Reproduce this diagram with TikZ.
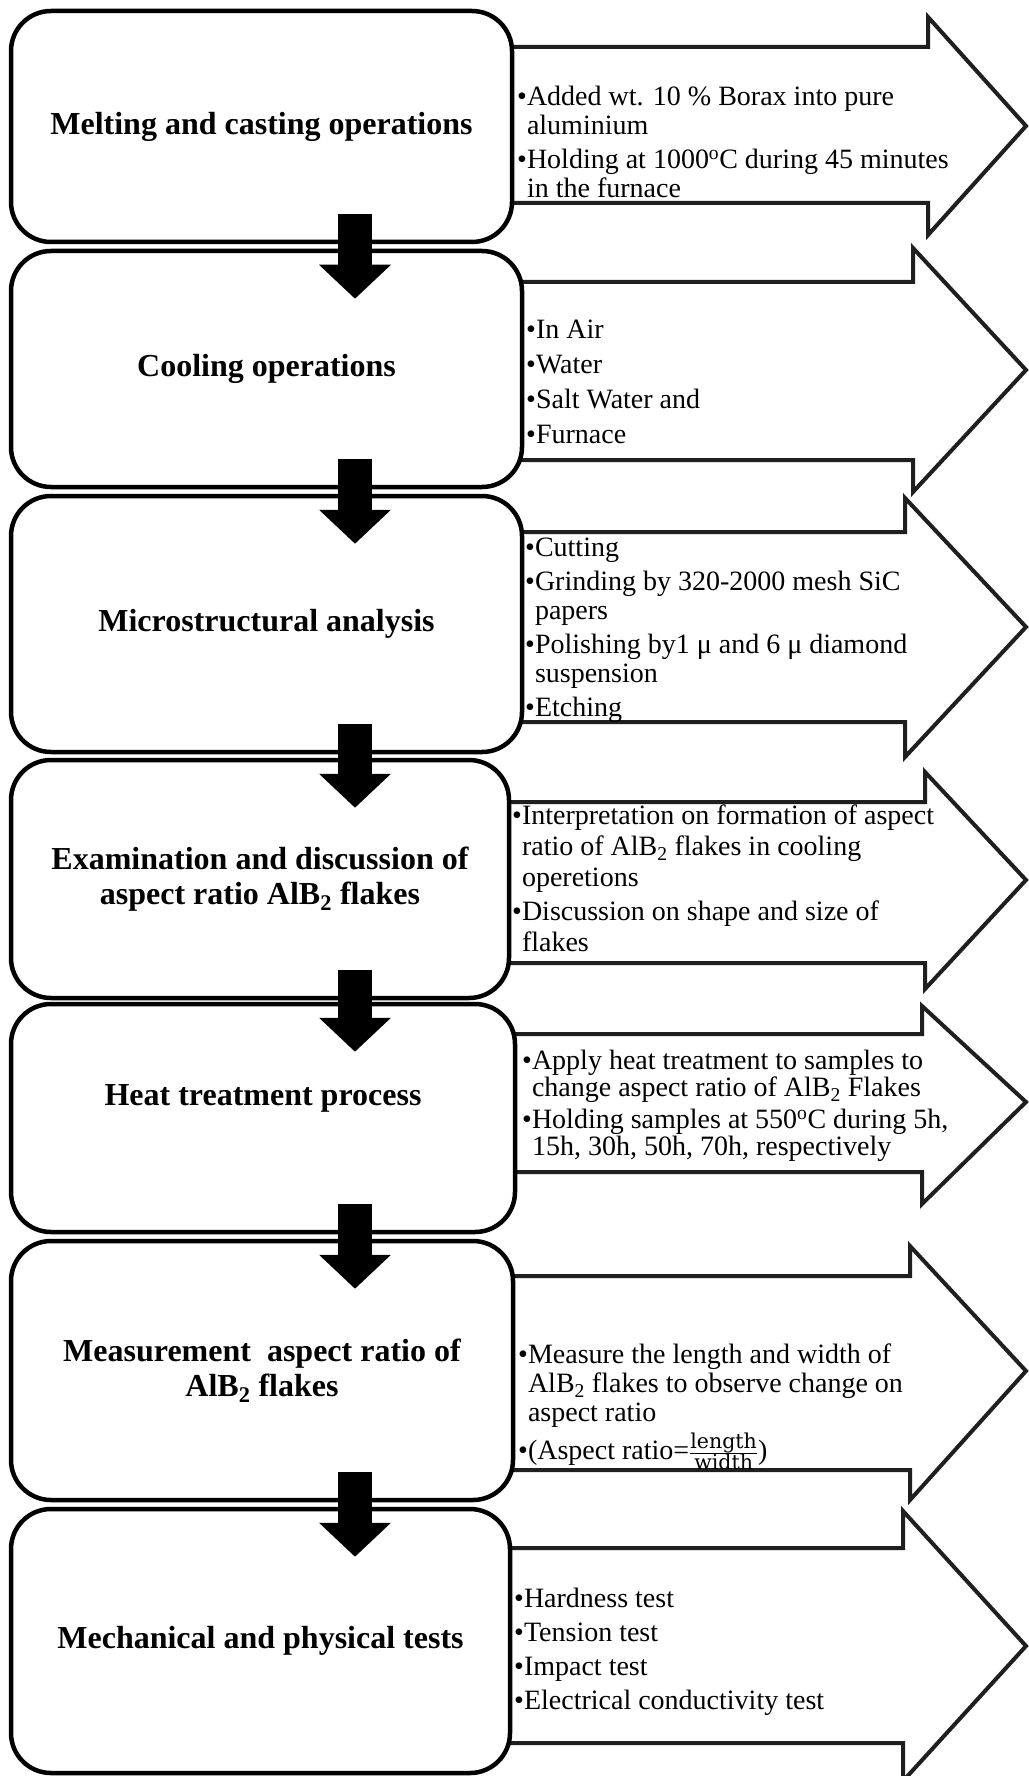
\documentclass[tikz,border=0pt]{standalone}
\usepackage{fontspec}
\setmainfont{Liberation Serif}
\newfontfamily\fracfont{DejaVu Serif}
\usetikzlibrary{arrows.meta,calc}
\newcommand{\mybul}{•}
\newcommand{\myind}{\phantom{•}}
\newcommand{\fr}[1]{\hbox{\fracfont\fontsize{20.5}{20.5}\selectfont #1}}
\begin{document}
\begin{tikzpicture}[x=1pt,y=-1pt,
  box/.style={draw=black,line width=4.5pt,rounded corners=40pt,fill=white,inner sep=0pt},
  lbl/.style={align=center,inner sep=0pt,font=\fontsize{32}{35}\selectfont\bfseries},
  bigarrow/.style={draw=black!88,line width=4pt,fill=white,line join=miter},
  items/.style={anchor=north west,align=left,inner sep=0pt,font=\fontsize{28}{29}\selectfont},
  down/.style={line width=34pt,draw=black,-{Triangle[width=70pt,length=34pt]}}]
\useasboundingbox (0,0) rectangle (1028,1776);
\fill[white] (0,0) rectangle (1028,1776);

% side arrows
\draw[bigarrow] (495,47) -- (928,47) -- (928,17) -- (1026,126) -- (928,235) -- (928,203) -- (495,203) -- cycle;
\draw[bigarrow] (505,282) -- (913,282) -- (913,248) -- (1026,370) -- (913,492) -- (913,460) -- (505,460) -- cycle;
\draw[bigarrow] (505,532) -- (905,532) -- (905,498) -- (1026,627) -- (905,757) -- (905,722) -- (505,722) -- cycle;
\draw[bigarrow] (495,802) -- (925,802) -- (925,772) -- (1026,880) -- (925,989) -- (925,963) -- (495,963) -- cycle;
\draw[bigarrow] (495,1034) -- (922,1034) -- (922,1006) -- (1026,1102) -- (922,1204) -- (922,1172) -- (495,1172) -- cycle;
\draw[bigarrow] (495,1276) -- (910,1276) -- (910,1246) -- (1026,1371) -- (910,1500) -- (910,1470) -- (495,1470) -- cycle;
\draw[bigarrow] (495,1548) -- (903,1548) -- (903,1511) -- (1026,1646) -- (903,1781) -- (903,1743) -- (495,1743) -- cycle;

% boxes
\node[box,minimum width=501pt,minimum height=231pt] (b1) at (261.5,126.5) {};
\node[box,minimum width=511pt,minimum height=236pt] (b2) at (266.5,369) {};
\node[box,minimum width=511pt,minimum height=256pt] (b3) at (266.5,624) {};
\node[box,minimum width=498pt,minimum height=238pt] (b4) at (260,879) {};
\node[box,minimum width=504pt,minimum height=228pt] (b5) at (263,1118) {};
\node[box,minimum width=502pt,minimum height=259pt] (b6) at (262,1370.5) {};
\node[box,minimum width=499pt,minimum height=264pt] (b7) at (260.5,1641) {};

% down arrows
\coordinate (ax) at (355,0);
\draw[down] ($(ax |- b1.south)+(0,-30)$) -- ($(ax |- b2.north)+(0,50)$);
\draw[down] ($(ax |- b2.south)+(0,-30)$) -- ($(ax |- b3.north)+(0,50)$);
\draw[down] ($(ax |- b3.south)+(0,-30)$) -- ($(ax |- b4.north)+(0,50)$);
\draw[down] ($(ax |- b4.south)+(0,-30)$) -- ($(ax |- b5.north)+(0,50)$);
\draw[down] ($(ax |- b5.south)+(0,-30)$) -- ($(ax |- b6.north)+(0,50)$);
\draw[down] ($(ax |- b6.south)+(0,-30)$) -- ($(ax |- b7.north)+(0,50)$);

% labels
\node[lbl] (l1) at (b1.center) {Melting and casting operations};
\node[lbl] (l2) at (b2.center) {Cooling operations};
\node[lbl] (l3) at (b3.center) {Microstructural analysis};
\node[lbl] (l4) at (b4.center) {Examination and discussion of\\aspect ratio AlB\textsubscript{2} flakes};
\node[lbl] (l5) at ($(b5.center)+(0,-20)$) {Heat treatment process};
\node[lbl] (l6) at (b6.center) {Measurement\ \ aspect ratio of\\AlB\textsubscript{2} flakes};
\node[lbl] (l7) at (b7.center) {Mechanical and physical tests};

% item texts
\node[items] (t1) at (517,86) {\mybul Added wt. 10 \% Borax into pure\\\myind aluminium\\[5pt]\mybul Holding at 1000\textsuperscript{o}C during 45 minutes\\\myind in the furnace};
\node[items] (t2) at (526,320) {\mybul In Air\\[6pt]\mybul Water\\[6pt]\mybul Salt Water and\\[6pt]\mybul Furnace};
\node[items] (t3) at (525,538) {\mybul Cutting\\[5pt]\mybul Grinding by 320-2000 mesh SiC\\\myind papers\\[5pt]\mybul Polishing by1 μ and 6 μ diamond\\\myind suspension\\[5pt]\mybul Etching};
\node[items,font=\fontsize{28}{31}\selectfont] (t4) at (512,805) {\mybul Interpretation on formation of aspect\\\myind ratio of AlB\textsubscript{2} flakes in cooling\\\myind operetions\\[3pt]\mybul Discussion on shape and size of\\\myind flakes};
\node[items,font=\fontsize{28}{27}\selectfont] (t5) at (522,1050) {\mybul Apply heat treatment to samples to\\\myind change aspect ratio of AlB\textsubscript{2} Flakes\\[5pt]\mybul Holding samples at 550\textsuperscript{o}C during 5h,\\\myind 15h, 30h, 50h, 70h, respectively};
\node[items] (t6) at (518,1344) {\mybul Measure the length and width of\\\myind AlB\textsubscript{2} flakes to observe change on\\\myind aspect ratio\\[4pt]\mybul (Aspect ratio=$\frac{\fr{length}}{\fr{width}}$)};
\node[items] (t7) at (514,1588) {\mybul Hardness test\\[5pt]\mybul Tension test\\[5pt]\mybul Impact test\\[5pt]\mybul Electrical conductivity test};
\end{tikzpicture}
\end{document}
